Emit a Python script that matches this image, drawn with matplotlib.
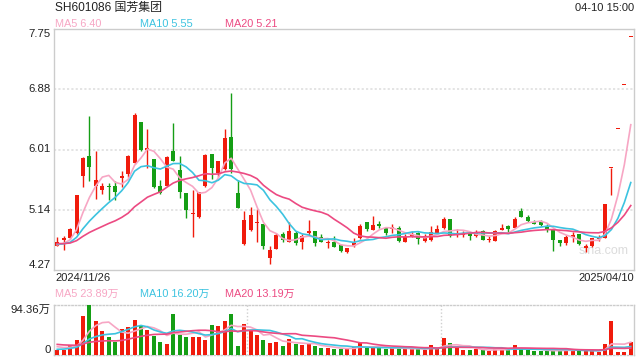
import numpy as np
import pandas as pd
import matplotlib
matplotlib.use("Agg")
import matplotlib.pyplot as plt
import matplotlib.transforms as mtransforms

plt.rcParams['font.family'] = ['Liberation Sans', 'Noto Sans CJK SC', 'DejaVu Sans']

title = "SH601086 国芳集团"
timestamp = "04-10 15:00"
start_date = "2024/11/26"
end_date = "2025/04/10"

# daily candles (price in yuan)
opens = [4.62, 4.70, 4.73, 4.80, 5.63, 5.92, 5.49, 5.43, 5.48, 5.48,
         5.60, 5.65, 5.81, 6.40, 6.00, 5.88, 5.48, 5.48, 5.99, 5.72,
         5.38, 5.08, 5.03, 5.48, 5.95, 5.67, 5.73, 6.19, 5.38, 4.65,
         4.85, 4.95, 4.93, 4.45, 4.58, 4.79, 4.68, 4.81, 4.68, 4.80,
         4.83, 4.74, 4.66, 4.68, 4.63, 4.53, 4.62, 4.73, 4.97, 4.85,
         4.93, 4.87, 4.86, 4.88, 4.68, 4.75, 4.80, 4.69, 4.70, 4.80,
         4.87, 5.00, 4.78, 4.77, 4.81, 4.76, 4.84, 4.71, 4.69, 4.85,
         4.91, 4.87, 5.12, 5.04, 4.97, 4.97, 4.90, 4.85, 4.70, 4.66,
         4.75, 4.79, 4.59, 4.61, 4.72, 4.73, 5.74, 6.31, 6.94, 7.63]
highs = [4.75, 4.76, 4.88, 5.36, 5.90, 6.49, 5.99, 5.53, 5.53, 5.56,
         5.70, 5.93, 6.53, 6.41, 6.30, 5.88, 5.57, 5.91, 6.39, 5.91,
         5.38, 5.42, 5.40, 5.94, 5.95, 5.84, 6.30, 6.82, 5.57, 5.12,
         5.18, 5.15, 4.93, 4.62, 4.80, 4.82, 4.97, 4.84, 4.79, 4.99,
         4.83, 4.79, 4.70, 4.76, 4.65, 4.59, 4.73, 4.93, 4.97, 5.05,
         4.98, 4.89, 4.94, 4.90, 4.79, 4.84, 4.82, 4.79, 4.91, 4.92,
         5.03, 5.00, 4.86, 4.84, 4.81, 4.85, 4.85, 4.76, 4.85, 4.94,
         4.92, 5.04, 5.17, 5.06, 4.99, 4.99, 4.93, 4.85, 4.70, 4.77,
         4.82, 4.79, 4.64, 4.73, 4.77, 5.23, 5.74, 6.31, 6.94, 7.63]
lows = [4.61, 4.56, 4.72, 4.79, 5.47, 5.56, 5.30, 5.37, 5.28, 5.28,
        5.47, 5.62, 5.80, 5.99, 5.75, 5.45, 5.37, 5.48, 5.84, 5.31,
        5.02, 4.75, 5.02, 5.47, 5.58, 5.62, 5.71, 5.67, 5.16, 4.63,
        4.83, 4.68, 4.58, 4.36, 4.58, 4.68, 4.68, 4.63, 4.58, 4.78,
        4.62, 4.67, 4.59, 4.60, 4.53, 4.51, 4.60, 4.72, 4.83, 4.85,
        4.87, 4.78, 4.80, 4.68, 4.67, 4.74, 4.65, 4.67, 4.69, 4.79,
        4.86, 4.74, 4.74, 4.74, 4.70, 4.74, 4.70, 4.67, 4.69, 4.85,
        4.80, 4.87, 5.03, 4.97, 4.93, 4.91, 4.82, 4.55, 4.61, 4.63,
        4.68, 4.63, 4.53, 4.60, 4.69, 4.73, 5.35, 6.31, 6.94, 7.63]
closes = [4.68, 4.73, 4.86, 5.35, 5.89, 5.76, 5.57, 5.49, 5.47, 5.39,
          5.63, 5.91, 6.51, 6.00, 6.03, 5.47, 5.38, 5.90, 5.85, 5.40,
          5.14, 5.10, 5.39, 5.93, 5.74, 5.84, 6.18, 5.73, 5.16, 4.99,
          5.06, 4.97, 4.61, 4.56, 4.78, 4.70, 4.83, 4.66, 4.76, 4.84,
          4.66, 4.68, 4.68, 4.60, 4.55, 4.59, 4.66, 4.91, 4.86, 4.92,
          4.91, 4.81, 4.89, 4.69, 4.74, 4.79, 4.72, 4.73, 4.82, 4.86,
          5.00, 4.76, 4.80, 4.80, 4.76, 4.81, 4.71, 4.72, 4.84, 4.88,
          4.86, 5.00, 5.04, 4.98, 4.94, 4.92, 4.85, 4.70, 4.66, 4.74,
          4.77, 4.64, 4.61, 4.73, 4.74, 5.22, 5.74, 6.31, 6.94, 7.63]
# volume in 万手
volumes = [9.4, 10.1, 18.2, 28.3, 73.6, 94.4, 63.4, 45.9, 33.3, 25.2,
           49.1, 52.2, 66.0, 54.7, 47.2, 35.9, 25.2, 20.8, 77.4, 37.7,
           34.6, 34.6, 34.6, 28.3, 56.6, 54.7, 63.4, 77.4, 16.4, 58.5,
           47.2, 37.7, 28.3, 23.3, 25.2, 17.0, 30.2, 20.8, 18.9, 20.8,
           17.0, 12.6, 12.6, 11.3, 11.3, 12.6, 14.5, 23.3, 12.6, 14.5,
           14.5, 11.3, 12.6, 12.6, 11.3, 11.3, 11.3, 9.4, 18.2, 11.3,
           32.7, 22.0, 12.6, 9.4, 9.4, 11.3, 9.4, 7.5, 10.7, 11.3,
           10.7, 18.9, 12.6, 9.4, 7.5, 7.5, 7.5, 9.4, 9.4, 9.4,
           8.2, 9.4, 7.5, 7.5, 6.3, 20.1, 63.4, 6.3, 6.3, 25.2]

# sessions before the first visible candle (only feed the moving averages)
prior_closes = [4.72, 4.70, 4.66, 4.63, 4.65, 4.68, 4.64, 4.61, 4.63, 4.66,
                4.69, 4.65, 4.62, 4.64, 4.67, 4.63, 4.60, 4.62, 4.64]
prior_volumes = [30, 27, 32, 25, 29, 33, 28, 26, 31, 32,
                 6, 5, 7, 5, 6, 18, 16, 19, 16]

price_ticks = [7.75, 6.88, 6.01, 5.14, 4.27]
vol_top = 94.36
ma_windows = [5, 10, 20]
price_ma_text = ["MA5 6.40", "MA10 5.55", "MA20 5.21"]
vol_ma_text = ["MA5 23.89万", "MA10 16.20万", "MA20 13.19万"]
ma_colors = ["#f7a6c4", "#3cc3e0", "#ec4a82"]

RED = "#f01b0c"
GREEN = "#159e15"
EDGE = "#cccccc"

fig = plt.figure(figsize=(6.4, 3.6), dpi=100)


def box(l, t, r, b):
    return [l / 640, 1 - b / 360, (r - l) / 640, (b - t) / 360]


def fy(y):
    return 1 - y / 360


ax = fig.add_axes(box(54, 29, 634, 270))
axv = fig.add_axes(box(54, 305, 634, 355))

n = len(closes)
x = np.arange(n)
prev = [prior_closes[-1]] + closes[:-1]
cols = [RED if (c > o or (c == o and c >= p)) else GREEN
        for o, c, p in zip(opens, closes, prev)]

# price candles
ax.vlines(x, lows, highs, colors=cols, lw=1, zorder=3)
bottoms = [min(o, c) for o, c in zip(opens, closes)]
heights = [max(abs(c - o), 0.014) for o, c in zip(opens, closes)]
ax.bar(x, heights, bottom=bottoms, width=0.62, color=cols, lw=0, zorder=3)

all_close = pd.Series(prior_closes + closes)
all_vol = pd.Series(prior_volumes + volumes)
k = len(prior_closes)
for w, c in zip(ma_windows, ma_colors):
    ax.plot(x, all_close.rolling(w).mean().iloc[k:].values, color=c, lw=1.2, zorder=4)
    axv.plot(x, all_vol.rolling(w).mean().iloc[k:].values, color=c, lw=1.2, zorder=4)

ax.set_xlim(-0.5, n - 0.5)
ax.set_ylim(price_ticks[-1], price_ticks[0])
ax.set_xticks([])
ax.set_yticks([])
for v in price_ticks[1:-1]:
    ax.axhline(v, color="#e2e2e2", lw=1.3, ls=(0, (1.2, 1.2)), zorder=1)
for s in ax.spines.values():
    s.set_color(EDGE)
    s.set_linewidth(1)

trans = mtransforms.blended_transform_factory(ax.transAxes, ax.transData)
for i, v in enumerate(price_ticks):
    va = "top" if i == 0 else ("bottom" if i == len(price_ticks) - 1 else "center")
    ax.text(-0.006, v, f"{v:.2f}", transform=trans, ha="right", va=va,
            fontsize=8.2, color="#222222")

ax.text(0.947, 0.08, "sina.com", transform=ax.transAxes, ha="center", va="center",
        fontsize=9, color="#dcdcdc", zorder=2)

# volume panel
axv.bar(x, volumes, width=0.62, color=cols, lw=0, zorder=3, clip_on=False)
axv.set_xlim(-0.5, n - 0.5)
axv.set_ylim(0, vol_top)
axv.set_xticks([])
axv.set_yticks([])
for xv in [-0.5 + n / 3, -0.5 + 2 * n / 3]:
    axv.axvline(xv, color="#cfcfcf", lw=1, ls=(0, (1, 1.5)), zorder=1)
for name, s in axv.spines.items():
    s.set_color(EDGE)
    s.set_linewidth(1)
    if name in ("top", "bottom"):
        s.set_linestyle((0, (1, 1.5)))
transv = mtransforms.blended_transform_factory(axv.transAxes, axv.transData)
axv.text(-0.006, vol_top, f"{vol_top:.2f}万", transform=transv, ha="right", va="top",
         fontsize=8.2, color="#222222")
axv.text(-0.006, 0, "0", transform=transv, ha="right", va="bottom",
         fontsize=8.2, color="#222222")

# header and labels
fig.text(55 / 640, fy(8), title, ha="left", va="center", fontsize=8.6, color="#222222")
fig.text(634 / 640, fy(8), timestamp, ha="right", va="center", fontsize=8, color="#222222")
for xp, t, c in zip([55, 140, 225], price_ma_text, ma_colors):
    fig.text(xp / 640, fy(24), t, ha="left", va="center", fontsize=7.8, color=c)
for xp, t, c in zip([55, 140, 225], vol_ma_text, ma_colors):
    fig.text(xp / 640, fy(294), t, ha="left", va="center", fontsize=7.8, color=c)
fig.text(55 / 640, fy(278), start_date, ha="left", va="center", fontsize=8, color="#222222")
fig.text(634 / 640, fy(278), end_date, ha="right", va="center", fontsize=8, color="#222222")

fig.savefig("out.png", dpi=100)
